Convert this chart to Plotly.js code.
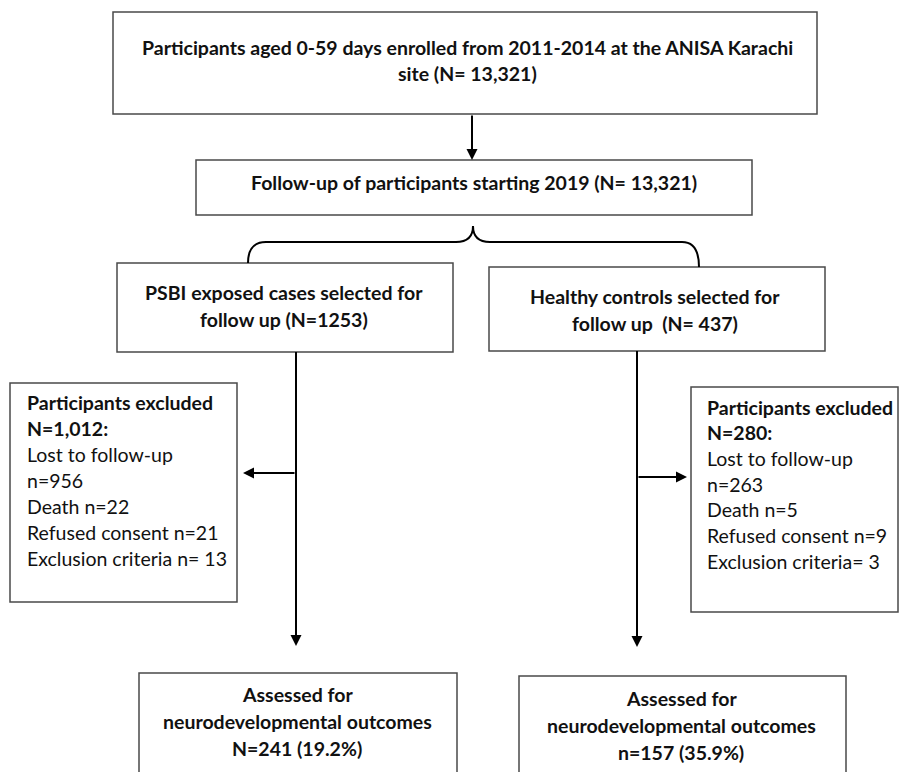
<!DOCTYPE html>
<html>
<head>
<meta charset="utf-8">
<script src="https://cdn.plot.ly/plotly-3.0.1.min.js"></script>
<style>html,body{margin:0;padding:0;background:#fff}#chart{width:903px;height:772px}</style>
</head>
<body>
<div id="chart"></div>
<script>
// ---- Data (texts of the flow chart) ----
const topLines = ["Participants aged 0-59 days enrolled from 2011-2014 at the ANISA Karachi", "site (N= 13,321)"];
const followLines = ["Follow-up of participants starting 2019 (N= 13,321)"];
const psbiLines = ["PSBI exposed cases selected for", "follow up (N=1253)"];
const healthyLines = ["Healthy controls selected for", "follow up  (N= 437)"];
const exclLeftBold = ["Participants excluded", "N=1,012:"];
const exclLeftLines = ["Lost to follow-up", "n=956", "Death n=22", "Refused consent n=21", "Exclusion criteria n= 13"];
const exclRightBold = ["Participants excluded", "N=280:"];
const exclRightLines = ["Lost to follow-up", "n=263", "Death n=5", "Refused consent n=9", "Exclusion criteria= 3"];
const assessLeftLines = ["Assessed for", "neurodevelopmental outcomes", "N=241 (19.2%)"];
const assessRightLines = ["Assessed for", "neurodevelopmental outcomes", "n=157 (35.9%)"];

// ---- Layout helpers ----
const FONT = "Lato, 'Open Sans', sans-serif";
const shapes = [];
const annotations = [];
const boxLine = {color: '#4a4a4a', width: 1.5};

function rect(x0, y0, x1, y1) {
  shapes.push({type: 'rect', xref: 'x', yref: 'y', x0: x0, y0: y0, x1: x1, y1: y1, line: boxLine, fillcolor: 'rgba(0,0,0,0)'});
}
function seg(x0, y0, x1, y1) {
  shapes.push({type: 'line', xref: 'x', yref: 'y', x0: x0, y0: y0, x1: x1, y1: y1, line: {color: '#000', width: 2}});
}
function arrow(tx, ty, hx, hy) {
  annotations.push({x: hx, y: hy, ax: tx, ay: ty, xref: 'x', yref: 'y', axref: 'x', ayref: 'y', text: '', showarrow: true,
    arrowhead: 2, arrowsize: 1.1, arrowwidth: 2, arrowcolor: '#000', standoff: 0, startstandoff: 0});
}
function lines(arr, x, y0, dy, opts) {
  arr.forEach(function (t, i) {
    annotations.push({x: x, y: y0 + i * dy, xref: 'x', yref: 'y', text: opts.bold ? '<b>' + t + '</b>' : t, showarrow: false,
      xanchor: opts.anchor || 'center', yanchor: 'middle',
      font: {family: FONT, size: opts.size || 19.5, color: '#111'}});
  });
}

// Boxes
rect(113, 12, 817, 114);
rect(196, 160, 752, 215);
rect(117, 263, 453, 352);
rect(489, 267, 825, 351);
rect(10, 383, 237, 602);
rect(691, 387, 898, 612);
rect(139, 673, 457, 790);
rect(519, 676, 846, 790);

// Brace
shapes.push({type: 'path', xref: 'x', yref: 'y',
  path: 'M 248 263 Q 248 242 266 242 L 456 242 Q 473 242 473 226 Q 473 242 490 242 L 682 242 Q 699 242 699 267',
  line: {color: '#000', width: 2}});

// Connectors and arrows
arrow(472, 114, 472, 160);
seg(296, 352, 296, 600);
arrow(296, 590, 296, 646);
arrow(296, 473, 243, 473);
seg(637, 351, 637, 600);
arrow(637, 590, 637, 647);
arrow(637, 477, 687, 477);

// Texts
lines(topLines, 467, 47, 26, {bold: true});
lines(followLines, 474, 182, 26, {bold: true});
lines(psbiLines, 284, 292, 27, {bold: true});
lines(healthyLines, 655, 296, 27, {bold: true});
lines(exclLeftBold, 25, 402, 26, {bold: true, anchor: 'left'});
lines(exclLeftLines, 25, 454, 26, {anchor: 'left'});
lines(exclRightBold, 705, 407, 25.7, {bold: true, anchor: 'left'});
lines(exclRightLines, 705, 458.4, 25.7, {anchor: 'left'});
lines(assessLeftLines, 297, 694, 27, {bold: true});
lines(assessRightLines, 681, 698, 27, {bold: true});

const layout = {
  width: 903, height: 772,
  margin: {l: 0, r: 0, t: 0, b: 0},
  paper_bgcolor: '#fff', plot_bgcolor: '#fff',
  xaxis: {range: [0, 903], visible: false, fixedrange: true},
  yaxis: {range: [772, 0], visible: false, fixedrange: true},
  showlegend: false,
  shapes: shapes,
  annotations: annotations
};
Plotly.newPlot('chart', [{x: [], y: [], type: 'scatter', mode: 'markers', hoverinfo: 'skip'}], layout, {staticPlot: true});
</script>
</body>
</html>
